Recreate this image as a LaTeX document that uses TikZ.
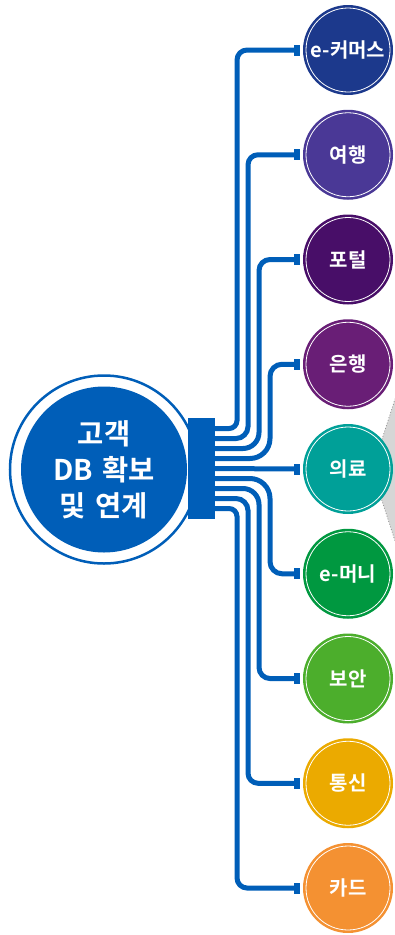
\documentclass[tikz,border=0pt]{standalone}
\usepackage{fontspec}
\setmainfont{Noto Sans CJK KR}[BoldFont=* Bold]
\definecolor{cblue}{RGB}{0,94,184}
\definecolor{cA}{RGB}{28,57,140}
\definecolor{cB}{RGB}{74,56,150}
\definecolor{cC}{RGB}{72,14,104}
\definecolor{cD}{RGB}{105,30,118}
\definecolor{cE}{RGB}{0,160,152}
\definecolor{cF}{RGB}{0,152,64}
\definecolor{cG}{RGB}{76,174,44}
\definecolor{cH}{RGB}{235,170,0}
\definecolor{cI}{RGB}{244,145,50}
\newcommand{\wsp}{\hspace{0.33em}}
\tikzset{
  conn/.style={line width=5pt, draw=cblue},
  tgt/.style={circle, minimum size=90pt, inner sep=0pt, fill=#1, text=white,
    font=\bfseries\fontsize{20}{20}\selectfont,
    path picture={\draw[white, line width=0.8pt] (path picture bounding box.center) circle (42pt);}},
  hubcircle/.style={circle, minimum size=188pt, inner sep=0pt, draw=cblue, line width=2.5pt, fill=white,
    text=white, align=center, font=\bfseries\fontsize{28.5}{36}\selectfont,
    path picture={\fill[cblue] (path picture bounding box.center) circle (83pt);}},
  stub/.style={fill=cblue}
}
\begin{document}
\begin{tikzpicture}[x=1pt,y=-1pt]
\useasboundingbox (0,0) rectangle (395,935);
% grey callout shape
\path[fill=black!16, draw=black!45, dotted, line width=0.8pt] (396,396) -- (372,470) -- (396,544);
% hub
\node[hubcircle] (core) at (104,469.5) {고객\\DB\wsp 확보\\및\wsp 연계};
\node[fill=cblue, minimum width=27pt, minimum height=101pt, inner sep=0pt] (hub) at (201.5,468.5) {};
% targets
\node[tgt=cA] (t1) at (348,50) {e-커머스};
\node[tgt=cB] (t2) at (348,154.75) {여행};
\node[tgt=cC] (t3) at (348,259.5) {포털};
\node[tgt=cD] (t4) at (348,364.25) {은행};
\node[tgt=cE] (t5) at (348,469) {의료};
\node[tgt=cF] (t6) at (348,573.75) {e-머니};
\node[tgt=cG] (t7) at (348,678.5) {보안};
\node[tgt=cH] (t8) at (348,783.25) {통신};
\node[tgt=cI] (t9) at (348,888) {카드};
% vertical positions
\coordinate (xa) at (237,0);
\coordinate (xb) at (248,0);
\coordinate (xc) at (259,0);
\coordinate (xd) at (270,0);
% start points on hub
\coordinate (s1) at ([yshift=40pt]hub.east);
\coordinate (s2) at ([yshift=30pt]hub.east);
\coordinate (s3) at ([yshift=20pt]hub.east);
\coordinate (s4) at ([yshift=10pt]hub.east);
\coordinate (s5) at ([yshift=0pt]hub.east);
\coordinate (s6) at ([yshift=-10pt]hub.east);
\coordinate (s7) at ([yshift=-20pt]hub.east);
\coordinate (s8) at ([yshift=-30pt]hub.east);
\coordinate (s9) at ([yshift=-40pt]hub.east);
% end points
\foreach \i in {1,...,9}{
  \coordinate (e\i) at ([xshift=-6pt]t\i.west);
  \fill[stub] ([xshift=-9pt,yshift=-5.5pt]t\i.west) rectangle ([xshift=-3pt,yshift=5.5pt]t\i.west);
}
\draw[conn] ([xshift=-1pt]s1) [rounded corners=8pt] -- (s1 -| xa) [rounded corners=10pt] |- (e1);
\draw[conn] ([xshift=-1pt]s2) [rounded corners=12pt] -- (s2 -| xb) [rounded corners=10pt] |- (e2);
\draw[conn] ([xshift=-1pt]s3) [rounded corners=16pt] -- (s3 -| xc) [rounded corners=11pt] |- (e3);
\draw[conn] ([xshift=-1pt]s4) [rounded corners=20pt] -- (s4 -| xd) [rounded corners=12pt] |- (e4);
\draw[conn] ([xshift=-1pt]s5) -- (e5);
\draw[conn] ([xshift=-1pt]s6) [rounded corners=20pt] -- (s6 -| xd) [rounded corners=12pt] |- (e6);
\draw[conn] ([xshift=-1pt]s7) [rounded corners=16pt] -- (s7 -| xc) [rounded corners=11pt] |- (e7);
\draw[conn] ([xshift=-1pt]s8) [rounded corners=12pt] -- (s8 -| xb) [rounded corners=10pt] |- (e8);
\draw[conn] ([xshift=-1pt]s9) [rounded corners=8pt] -- (s9 -| xa) [rounded corners=10pt] |- (e9);
\end{tikzpicture}
\end{document}
